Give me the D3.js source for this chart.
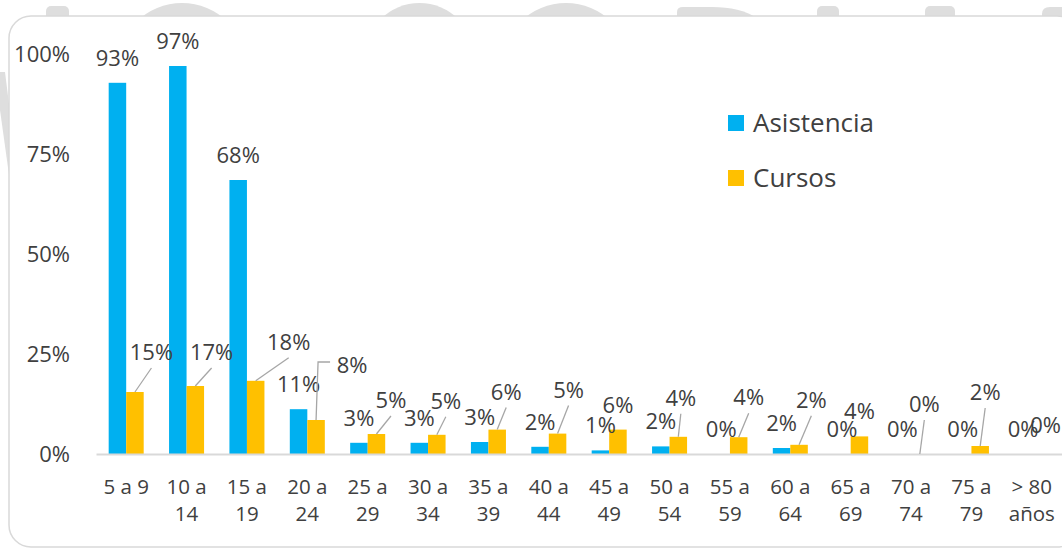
<!DOCTYPE html>
<html>
<head>
<meta charset="utf-8">
<script src="https://cdn.jsdelivr.net/npm/d3@7"></script>
<style>
  html, body { margin: 0; padding: 0; background: #ffffff; }
  svg { display: block; }
  text { font-family: "Open Sans", "Noto Sans", sans-serif; fill: #404040; }
</style>
</head>
<body>
<svg id="chart" width="1062" height="548"></svg>
<script>
// ---- data ----
const categories = ["5 a 9","10 a 14","15 a 19","20 a 24","25 a 29","30 a 34","35 a 39","40 a 44","45 a 49","50 a 54","55 a 59","60 a 64","65 a 69","70 a 74","75 a 79","> 80 años"];
const seriesNames = ["Asistencia","Cursos"];
const asistencia = [93, 97, 68, 11, 3, 3, 3, 2, 1, 2, 0, 2, 0, 0, 0, 0];
const cursos     = [15, 17, 18, 8, 5, 5, 6, 5, 6, 4, 4, 2, 4, 0, 2, 0];
// bar heights (labels are rounded values above)
const asistenciaBar = [92.8, 97, 68.5, 11.2, 2.8, 2.8, 3, 1.8, 0.9, 1.9, 0, 1.5, 0, 0, 0, 0];
const cursosBar     = [15.5, 17, 18.3, 8.5, 5, 4.8, 6.1, 5.1, 6.1, 4.3, 4.2, 2.3, 4.4, 0, 2, 0];
const yTicks = [0, 25, 50, 75, 100];

// label placement for the Cursos labels (offset from bar top centre) and leader style
const cursosLabelDx = [16.5, 16.3, 33, 36, 14.5, 9, 9, 11, 0, 2.5, 10, 12.3, 0, 4.5, 5, 5];
const cursosLabelDy = [-40, -34, -39, -55, -34, -34, -38, -44, -25, -39, -40, -45, -25, -50, -54, -29];
const cursosLeader  = ["line","line","line","elbow","line","line","line","line","none","line","line","line","none","line","line","none"];

const colors = ["#00B0F0", "#FFC000"];

// ---- layout ----
const svg = d3.select("#chart");

// background watermark shapes (behind panel)
const wm = svg.append("g").attr("fill", "#dedede");
wm.append("rect").attr("x", 46).attr("y", 6).attr("width", 23).attr("height", 20).attr("rx", 5);
wm.append("circle").attr("cx", 182).attr("cy", 68).attr("r", 65);
wm.append("circle").attr("cx", 419.5).attr("cy", 58).attr("r", 55);
wm.append("circle").attr("cx", 566).attr("cy", 68).attr("r", 65);
wm.append("path").attr("d", "M677,20 L677,12 Q677,7 683,7 L712,7 Q740,7 757,18 Z");
wm.append("rect").attr("x", 817).attr("y", 6).attr("width", 22).attr("height", 20).attr("rx", 5);
wm.append("rect").attr("x", 925).attr("y", 6).attr("width", 30).attr("height", 20).attr("rx", 5);
wm.append("path").attr("d", "M1042,20 L1042,14 Q1042,7 1050,7 L1062,7 L1062,20 Z");
wm.append("path").attr("d", "M0,72 L5,72 L10,112 L10,182 L0,110 Z");

// panel
svg.append("rect")
  .attr("x", 9).attr("y", 16)
  .attr("width", 1070).attr("height", 531)
  .attr("rx", 22).attr("ry", 22)
  .attr("fill", "#ffffff")
  .attr("stroke", "#d9d9d9").attr("stroke-width", 1.5);

const x0 = d3.scaleBand().domain(categories).range([96, 1062]).paddingInner(0.42).paddingOuter(0.21);
const x1 = d3.scaleBand().domain(seriesNames).range([0, x0.bandwidth()]).padding(0);
const y = d3.scaleLinear().domain([0, 100]).range([454, 54]);

// y axis labels
const yAxis = d3.axisLeft(y).tickValues(yTicks).tickFormat(d => d + "%").tickSize(0).tickPadding(0);
const yg = svg.append("g").attr("transform", "translate(70,0)").call(yAxis);
yg.select(".domain").remove();
yg.selectAll("text").attr("font-size", 22).attr("fill", "#404040")
  .attr("font-family", "'Open Sans', 'Noto Sans', sans-serif").attr("dy", "0.36em");

// bars
const rows = categories.map((c, i) => ({
  cat: c,
  vals: [
    { s: "Asistencia", bar: asistenciaBar[i], label: asistencia[i], i },
    { s: "Cursos", bar: cursosBar[i], label: cursos[i], i }
  ]
}));

const groups = svg.append("g").selectAll("g").data(rows).join("g")
  .attr("transform", d => `translate(${x0(d.cat)},0)`);
groups.selectAll("rect").data(d => d.vals).join("rect")
  .attr("x", d => x1(d.s))
  .attr("width", x1.bandwidth())
  .attr("y", d => y(d.bar))
  .attr("height", d => y(0) - y(d.bar))
  .attr("fill", (d, k) => colors[k]);

// baseline
const xAxis = d3.axisBottom(x0).tickSize(0).tickPadding(0).tickFormat("");
const xg = svg.append("g").attr("transform", `translate(0,${y(0)})`).call(xAxis);
xg.select(".domain").attr("stroke", "#d9d9d9").attr("stroke-width", 2);

// category labels (wrapped)
const catG = svg.append("g");
categories.forEach(c => {
  const cx = x0(c) + x0.bandwidth() / 2;
  const t = catG.append("text").attr("text-anchor", "middle").attr("font-size", 20.5).attr("x", cx).attr("y", 494);
  const words = c.split(" ");
  let lines = [], cur = [];
  words.forEach(w => {
    const test = cur.concat([w]).join(" ");
    t.text(test);
    if (t.node().getComputedTextLength() > 56 && cur.length) { lines.push(cur.join(" ")); cur = [w]; }
    else cur.push(w);
  });
  lines.push(cur.join(" "));
  t.text(null);
  lines.forEach((ln, k) => t.append("tspan").attr("x", cx).attr("y", 494 + k * 27).text(ln));
});

// data labels
const lab = svg.append("g");
const leaders = svg.append("g").attr("stroke", "#a6a6a6").attr("stroke-width", 1.3).attr("fill", "none");
categories.forEach((c, i) => {
  const bx = x0(c) + x1("Asistencia") + x1.bandwidth() / 2;
  const by = y(asistenciaBar[i]);
  lab.append("text").attr("text-anchor", "middle").attr("font-size", 22)
    .attr("x", bx).attr("y", by - 17).text(asistencia[i] + "%");

  const cxp = x0(c) + x1("Cursos") + x1.bandwidth() / 2;
  const cy = y(cursosBar[i]);
  const lx = cxp + cursosLabelDx[i], ly = cy + cursosLabelDy[i];
  lab.append("text").attr("text-anchor", "middle").attr("font-size", 22)
    .attr("x", lx).attr("y", ly + 8).text(cursos[i] + "%");
  if (cursosLeader[i] === "line") {
    leaders.append("line").attr("x1", lx).attr("y1", ly + 16).attr("x2", cxp).attr("y2", cy);
  } else if (cursosLeader[i] === "elbow") {
    leaders.append("path").attr("d", `M${cxp},${cy} L${cxp + 2},${ly - 3} L${lx - 22},${ly - 3}`);
  }
});

// legend
const leg = svg.append("g");
seriesNames.forEach((s, k) => {
  const ly = 123 + k * 55;
  leg.append("rect").attr("x", 728).attr("y", ly - 8).attr("width", 16).attr("height", 16).attr("fill", colors[k]);
  leg.append("text").attr("x", 753).attr("y", ly + 9).attr("font-size", 26).text(s);
});
</script>
</body>
</html>
